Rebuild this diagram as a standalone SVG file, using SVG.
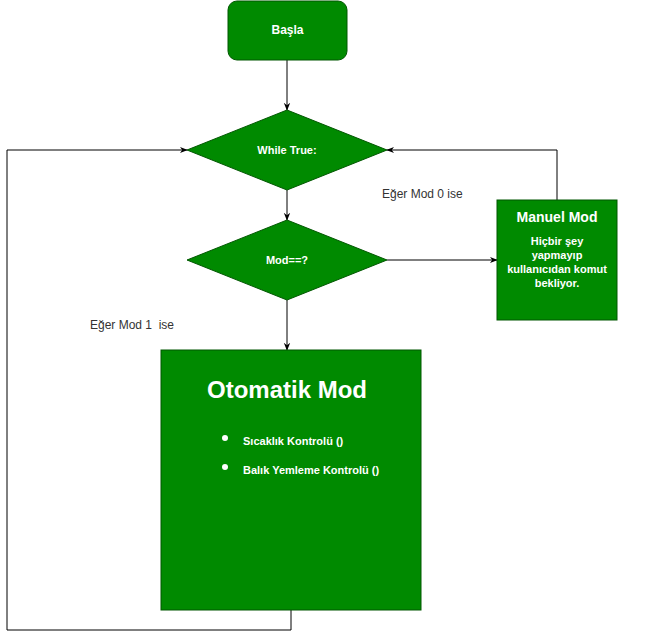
<svg xmlns="http://www.w3.org/2000/svg" width="653" height="639" viewBox="0 0 653 639">
<style>
.n{fill:#008a00;stroke:#005700;stroke-width:1}
.t{font-family:"Liberation Sans",Arial,sans-serif;fill:#ffffff;font-weight:bold;text-anchor:middle}
.l{font-family:"Liberation Sans",Arial,sans-serif;fill:#333333;font-size:12px}
.c{fill:none;stroke:#000000;stroke-width:1}
</style>
<defs>
<marker id="a" viewBox="0 0 10 10" refX="9" refY="5" markerWidth="8" markerHeight="8" markerUnits="userSpaceOnUse" orient="auto">
<path d="M0,1 L10,5 L0,9 L3,5 Z" fill="#000"/>
</marker>
</defs>
<rect width="653" height="639" fill="#ffffff"/>
<g id="connectors">
<path class="c" d="M287,60 V110" marker-end="url(#a)"/>
<path class="c" d="M287,190 V220" marker-end="url(#a)"/>
<path class="c" d="M287,300 V350" marker-end="url(#a)"/>
<path class="c" d="M387,260 H497" marker-end="url(#a)"/>
<path class="c" d="M557,200 V150 H387" marker-end="url(#a)"/>
<path class="c" d="M291,610 V630 H7 V150 H187" marker-end="url(#a)"/>
</g>
<g id="start">
<rect class="n" x="228" y="1" width="119" height="59" rx="9"/>
<text class="t" x="287.5" y="34" font-size="12">Başla</text>
</g>
<g id="while">
<polygon class="n" points="287,110 387,150 287,190 187,150"/>
<text class="t" x="287" y="154" font-size="11">While True:</text>
</g>
<g id="mod">
<polygon class="n" points="287,220 387,260 287,300 187,260"/>
<text class="t" x="287" y="264" font-size="11">Mod==?</text>
</g>
<g id="manuel">
<rect class="n" x="497" y="200" width="120" height="120"/>
<text class="t" x="557" y="222" font-size="14">Manuel Mod</text>
<text class="t" x="557" y="245" font-size="11">Hiçbir şey</text>
<text class="t" x="557" y="259" font-size="11">yapmayıp</text>
<text class="t" x="557" y="273" font-size="11">kullanıcıdan komut</text>
<text class="t" x="557" y="287" font-size="11">bekliyor.</text>
</g>
<g id="otomatik">
<rect class="n" x="161" y="350" width="260" height="260"/>
<text class="t" x="287" y="398" font-size="24">Otomatik Mod</text>
<circle cx="225" cy="438" r="3" fill="#ffffff"/>
<circle cx="225" cy="467" r="3" fill="#ffffff"/>
<text class="t" x="243" y="445" font-size="11" style="text-anchor:start">Sıcaklık Kontrolü ()</text>
<text class="t" x="243" y="474" font-size="11" style="text-anchor:start">Balık Yemleme Kontrolü ()</text>
</g>
<g id="labels">
<text class="l" x="382" y="198">Eğer Mod 0 ise</text>
<text class="l" x="90" y="329" xml:space="preserve">Eğer Mod 1  ise</text>
</g>
</svg>
